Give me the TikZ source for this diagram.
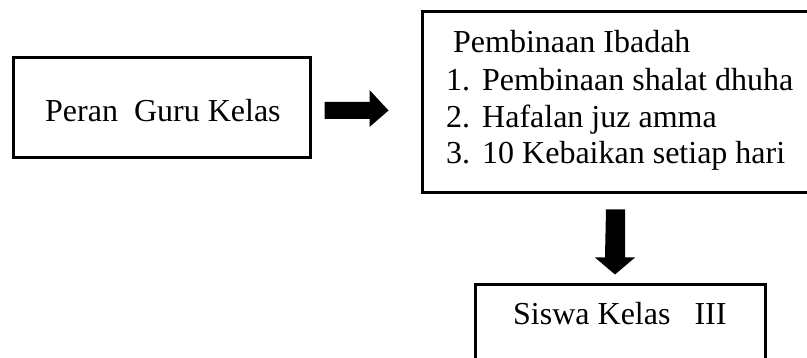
\documentclass[tikz,border=0pt]{standalone}
\usepackage{fontspec}
\setmainfont{Liberation Serif}
\usetikzlibrary{calc}
\begin{document}
\begin{tikzpicture}[x=1pt,y=-1pt,
  box/.style={draw=black, line width=3pt, fill=white, inner sep=0pt},
  txt/.style={anchor=base west, inner sep=0pt, font=\fontsize{32}{37}\selectfont},
  blockarrow/.style={fill=black, draw=none}]
\useasboundingbox[fill=white] (0,0) rectangle (807,358);
\clip (0,0) rectangle (807,358);
% boxes
\node[box, minimum width=297pt, minimum height=100pt] (guru) at (161.5,108) {};
\node[box, minimum width=390pt, minimum height=181pt] (ibadah) at (617,102.5) {};
\node[box, minimum width=290pt, minimum height=90pt] (siswa) at (620,330) {};
% texts
\node[txt] (t1) at (45,122) {Peran\ \ Guru Kelas};
\node[txt] (t2) at (453,53) {Pembinaan Ibadah};
\node[txt] (n1) at (446,91) {1.};
\node[txt] (i1) at (482,91) {Pembinaan shalat dhuha};
\node[txt] (n2) at (446,128) {2.};
\node[txt] (i2) at (482,128) {Hafalan juz amma};
\node[txt] (n3) at (446,164) {3.};
\node[txt] (i3) at (482,164) {10 Kebaikan setiap hari};
\node[txt] (t3) at (513,325) {Siswa Kelas\ \ \ III};
% right block arrow (from guru towards ibadah)
\coordinate (ra) at ($(guru.east)+(13,2.5)$);
\fill[blockarrow] ($(ra)+(0,-8.5)$) -- ++(45,0) -- ++(0,-12) -- ++(19,20.5) -- ++(-19,16.5) -- ++(0,-8) -- ++(-45,0) -- cycle;
% down block arrow (from ibadah towards siswa)
\coordinate (da) at ($(ibadah.south)+(-1.5,15)$);
\fill[blockarrow] ($(da)+(-9.5,0)$) -- ++(19,0) -- ++(0,48) -- ++(10,0) -- ++(-20,17) -- ++(-20,-17) -- ++(10,0) -- cycle;
\end{tikzpicture}
\end{document}
